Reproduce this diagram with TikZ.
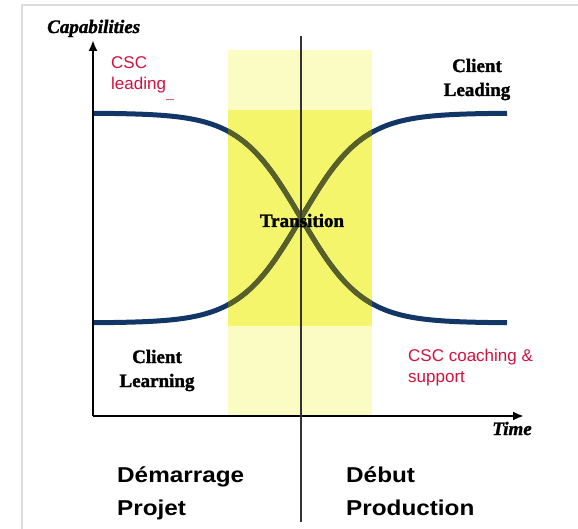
\documentclass[tikz,border=0pt]{standalone}
\usepackage{fontspec}
\setmainfont{Liberation Serif}[BoldFeatures={FakeBold=1.6},BoldItalicFeatures={FakeBold=1.6}]
\setsansfont{Liberation Sans}
\usetikzlibrary{arrows.meta}
\definecolor{navy}{RGB}{18,54,102}
\definecolor{olive}{RGB}{88,96,42}
\definecolor{bandlight}{RGB}{251,251,196}
\definecolor{bandbright}{RGB}{245,245,108}
\definecolor{cscred}{RGB}{208,18,62}
\definecolor{framegray}{RGB}{220,220,220}
\tikzset{
  curve/.style={line width=5pt, draw=navy},
  curvein/.style={line width=5pt, draw=olive},
  axis/.style={line width=2.4pt, draw=black, -{Latex[length=11pt,width=9pt]}},
  serlabel/.style={font=\fontsize{19}{22}\selectfont\bfseries, inner sep=0pt, text=black},
  redlabel/.style={font=\sffamily\fontsize{17}{20}\selectfont, inner sep=0pt, text=cscred},
  phase/.style={font=\sffamily\bfseries\fontsize{21.5}{26}\selectfont, inner sep=0pt, text=black},
  axlabel/.style={font=\fontsize{19}{22}\selectfont\bfseries\itshape, inner sep=0pt, text=black}
}
\begin{document}
\begin{tikzpicture}[x=1pt,y=-1pt]
\useasboundingbox (0,0) rectangle (578,529);
% frame
\draw[framegray, line width=2pt] (22,529) -- (22,5) -- (578,5);
% band
\fill[bandlight] (228,50) rectangle (372,416);
\fill[bandbright] (228,110) rectangle (372,326);
% curves
\draw[curve] plot[domain=93:507, samples=120] (\x, {218+105*tanh((\x-301)/62)});
\draw[curve] plot[domain=93:507, samples=120] (\x, {218-105*tanh((\x-301)/62)});
\begin{scope}
\clip (228,50) rectangle (372,416);
\draw[curvein] plot[domain=200:400, samples=80] (\x, {218+105*tanh((\x-301)/62)});
\draw[curvein] plot[domain=200:400, samples=80] (\x, {218-105*tanh((\x-301)/62)});
\end{scope}
% axes
\coordinate (O) at (93,416);
\coordinate (ytop) at (93,40);
\coordinate (xend) at (524,416);
\draw[axis] (O) -- (ytop);
\draw[axis] (O) -- (xend);
% divider
\coordinate (vt) at (301,36);
\coordinate (vb) at (301,522);
\draw[line width=1.3pt, draw=black!80] (vt) -- (vb);
% small red dash
\coordinate (d1) at (166,99);
\coordinate (d2) at (174,99);
\draw[cscred!70, line width=0.8pt] (d1) -- (d2);
% axis labels
\node[axlabel, anchor=base west] (cap) at (47,33) {Capabilities};
\node[axlabel, anchor=base] (time) at (512,435) {Time};
% serif labels
\node[serlabel, anchor=base] (cl1) at (477,72) {Client};
\node[serlabel, anchor=base] (cl2) at (477,96) {Leading};
\node[serlabel, anchor=base] (le1) at (157,363) {Client};
\node[serlabel, anchor=base] (le2) at (157,387) {Learning};
\node[serlabel, anchor=base] (tr) at (302,227) {Transition};
% red labels
\node[redlabel, anchor=base west] (csc1) at (111,69) {CSC};
\node[redlabel, anchor=base west] (csc2) at (111,90) {leading};
\node[redlabel, anchor=base west] (co1) at (408,361) {CSC coaching \&};
\node[redlabel, anchor=base west] (co2) at (408,382) {support};
% phases
\node[phase, anchor=base west] (p1) at (117,482) {\scalebox{1.13}[1]{Démarrage}};
\node[phase, anchor=base west] (p2) at (117,515) {\scalebox{1.13}[1]{Projet}};
\node[phase, anchor=base west] (p3) at (346,482) {\scalebox{1.13}[1]{Début}};
\node[phase, anchor=base west] (p4) at (346,515) {\scalebox{1.13}[1]{Production}};
\end{tikzpicture}
\end{document}
